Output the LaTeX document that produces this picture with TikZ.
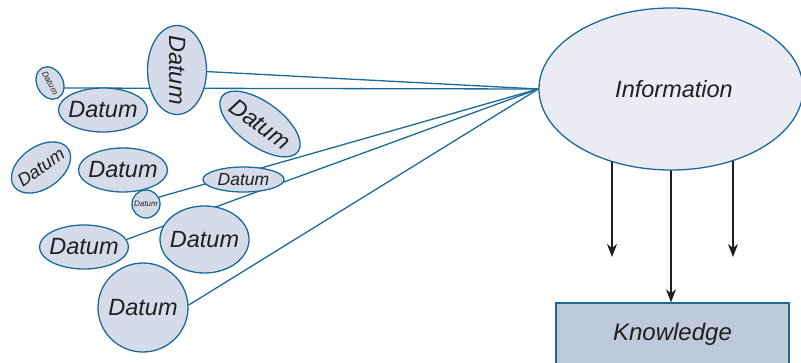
\documentclass[tikz,border=0pt]{standalone}
\usepackage{fontspec}
\setmainfont{Liberation Sans}
\usetikzlibrary{shapes.geometric,arrows.meta,backgrounds}
\definecolor{dfill}{HTML}{D5DBE9}
\definecolor{infofill}{HTML}{EAEBF3}
\definecolor{kfill}{HTML}{BECADC}
\definecolor{bblue}{HTML}{1D6A97}
\definecolor{txt}{HTML}{231F20}
\newcommand{\dtxt}{\makebox[0pt]{Datum}}
\begin{document}
\begin{tikzpicture}[x=1pt,y=1pt,
  datum/.style={ellipse,draw=bblue,line width=1.3pt,fill=dfill,inner sep=0pt,
    font=\fontsize{23.5}{28}\selectfont\itshape,text=txt},
  conn/.style={draw=bblue,line width=1.3pt},
  arr/.style={draw=txt,line width=1.1pt,-{Stealth[length=13pt,width=10pt,inset=4pt]}}]
\useasboundingbox (0,0) rectangle (801,-362);
% data
\node[datum,minimum width=34pt,minimum height=26pt,rotate=-62,font=\fontsize{8.5}{10}\selectfont\itshape] (d1) at (50,-83) {\dtxt};
\node[datum,minimum width=89pt,minimum height=59pt,rotate=-90] (d2) at (177,-70) {\dtxt};
\node[datum,minimum width=89pt,minimum height=44pt] (d3) at (103,-110) {\dtxt};
\node[datum,minimum width=94pt,minimum height=44pt,rotate=-36] (d4) at (260,-124) {\dtxt};
\node[datum,minimum width=66pt,minimum height=42pt,rotate=35,font=\fontsize{18}{21}\selectfont\itshape] (d5) at (41,-167.5) {\dtxt};
\node[datum,minimum width=89pt,minimum height=44pt] (d6) at (123,-170) {\dtxt};
\node[datum,minimum width=81pt,minimum height=25pt,font=\fontsize{17.5}{20}\selectfont\itshape] (d7) at (243.5,-179.5) {\dtxt};
\node[datum,minimum width=28pt,minimum height=28pt,font=\fontsize{8}{9}\selectfont\itshape] (d8) at (146,-204) {\dtxt};
\node[datum,minimum width=89pt,minimum height=44pt] (d9) at (84,-247) {\dtxt};
\node[datum,minimum width=89pt,minimum height=67pt] (d10) at (204.5,-239.5) {\dtxt};
\node[datum,minimum width=90pt,minimum height=89pt] (d11) at (143,-307.5) {\dtxt};
% information & knowledge
\node[ellipse,draw=bblue,line width=1.3pt,fill=infofill,inner sep=0pt,
  minimum width=264pt,minimum height=162pt,
  font=\fontsize{23.5}{28}\selectfont\itshape,text=txt] (info) at (671,-89) {\hspace*{6pt}\makebox[0pt]{Information}};
\node[rectangle,draw=bblue,line width=1.3pt,fill=kfill,inner sep=0pt,
  minimum width=233pt,minimum height=63pt,
  font=\fontsize{24}{28}\selectfont\itshape,text=txt] (know) at (672.5,-334.5) {Knowledge};
\coordinate (a1) at (612,-257);
\coordinate (a3) at (733,-257);
% connectors behind
\begin{scope}[on background layer]
\draw[conn] ([yshift=-5pt]d1.center) -- (info.west);
\draw[conn] (d2.center) -- (info.west);
\draw[conn] (d8.28) -- (info.west);
\draw[conn] (d9.10) -- (info.west);
\draw[conn] (d11.3) -- (info.west);
\draw[arr] (info.center -| a1) -- (a1);
\draw[arr] (info.center) -- (info.center |- know.north);
\draw[arr] (info.center -| a3) -- (a3);
\end{scope}
\end{tikzpicture}
\end{document}
